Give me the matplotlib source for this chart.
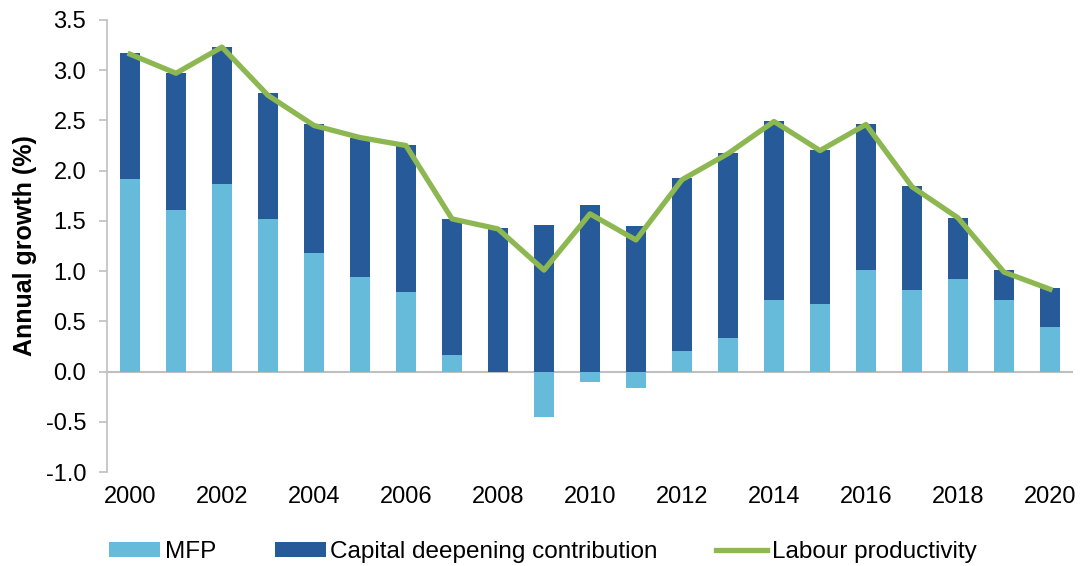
import matplotlib.pyplot as plt
import numpy as np

plt.rcParams['font.family'] = ['Liberation Sans', 'DejaVu Sans']

years = list(range(2000, 2021))
tick_years = [str(y) for y in range(2000, 2021, 2)]

mfp = [1.92, 1.61, 1.87, 1.52, 1.18, 0.94, 0.79, 0.16, 0.00, -0.45,
       -0.10, -0.16, 0.20, 0.33, 0.71, 0.67, 1.01, 0.81, 0.92, 0.71, 0.44]
capital = [1.25, 1.36, 1.36, 1.25, 1.28, 1.39, 1.47, 1.36, 1.43, 1.46,
           1.66, 1.45, 1.73, 1.85, 1.78, 1.54, 1.45, 1.04, 0.61, 0.30, 0.39]
labour = [3.16, 2.97, 3.23, 2.75, 2.45, 2.33, 2.25, 1.52, 1.42, 1.01,
          1.57, 1.31, 1.91, 2.17, 2.49, 2.20, 2.46, 1.84, 1.53, 0.99, 0.82]

c_mfp = '#66BBDB'
c_cap = '#275A99'
c_lab = '#8DB851'
fs = 17

fig = plt.figure(figsize=(10.83, 5.66), dpi=100)
ax = fig.add_axes([107/1083, 1 - 472/566, (1073 - 107)/1083, (472 - 20)/566])

x = np.arange(len(years))
mfp = np.array(mfp)
capital = np.array(capital)
cap_bottom = np.where(mfp > 0, mfp, 0)

b1 = ax.bar(x, mfp, width=0.435, color=c_mfp, label='MFP', zorder=2)
b2 = ax.bar(x, capital, width=0.435, bottom=cap_bottom, color=c_cap,
            label='Capital deepening contribution', zorder=2)
l1, = ax.plot(x, labour, color=c_lab, lw=3.8, label='Labour productivity', zorder=3)

ax.axhline(0, color='#BFBFBF', lw=1.5, zorder=1)

ax.set_xlim(-0.5, 20.5)
ax.set_ylim(-1.0, 3.5)
yt = np.arange(-1.0, 3.51, 0.5)
ax.set_yticks(yt)
ax.set_yticklabels([f'{v:.1f}' for v in yt], fontsize=fs)
ax.set_xticks(x[::2])
ax.set_xticklabels(tick_years, fontsize=fs)
ax.tick_params(axis='x', length=0, pad=10)
ax.tick_params(axis='y', length=6, width=1.2, color='#BFBFBF', direction='out', pad=9)

for s in ['top', 'right', 'bottom']:
    ax.spines[s].set_visible(False)
ax.spines['left'].set_color('#BFBFBF')
ax.spines['left'].set_linewidth(1.2)

ax.set_ylabel('Annual growth (%)', fontsize=18, fontweight='bold', labelpad=6)

fig.legend([b1, b2, l1], ['MFP', 'Capital deepening contribution', 'Labour productivity'],
           loc='center', bbox_to_anchor=(543/1083, 1 - 552/566), ncol=3, frameon=False,
           fontsize=17.5, handlelength=2.1, handleheight=0.55, handletextpad=0.2,
           columnspacing=2.4)

fig.savefig('out.png', dpi=100)
